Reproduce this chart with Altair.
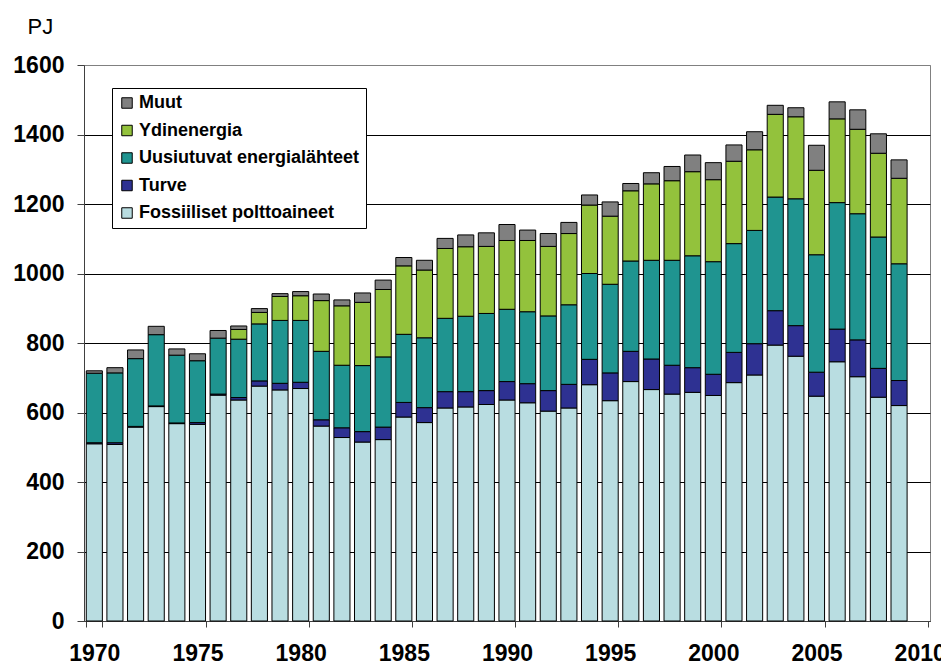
import altair as alt
import pandas as pd

years = list(range(1970, 2010))

fossiiliset = [510, 508, 558, 617, 568, 566, 650, 636, 676, 665,
               669, 561, 528, 515, 522, 587, 571, 613, 616, 623,
               636, 628, 604, 613, 680, 634, 689, 666, 653, 658,
               649, 686, 708, 794, 762, 647, 746, 703, 644, 620]
turve = [3, 5, 2, 2, 2, 5, 3, 7, 15, 19,
         18, 18, 28, 30, 36, 42, 43, 47, 44, 40,
         53, 55, 59, 68, 73, 80, 87, 88, 83, 71,
         61, 87, 90, 99, 88, 69, 94, 106, 83, 72]
uusiutuvat = [200, 201, 195, 205, 195, 178, 161, 168, 164, 181,
              178, 197, 180, 190, 202, 196, 201, 211, 217, 222,
              208, 207, 215, 229, 247, 255, 260, 284, 302, 322,
              324, 313, 326, 327, 365, 338, 364, 363, 378, 336]
ydinenergia = [0, 0, 0, 0, 0, 0, 0, 28, 33, 69,
               71, 146, 171, 182, 194, 197, 195, 201, 200, 193,
               198, 205, 200, 205, 197, 196, 202, 220, 229, 242,
               236, 237, 232, 238, 236, 243, 241, 243, 241, 246]
muut = [7, 15, 25, 24, 18, 20, 22, 10, 11, 8,
        12, 19, 17, 27, 27, 24, 28, 29, 34, 39,
        46, 30, 37, 32, 29, 41, 21, 32, 41, 48,
        49, 47, 52, 26, 26, 72, 49, 56, 56, 53]

series_names = ["Fossiiliset polttoaineet", "Turve", "Uusiutuvat energialähteet",
                "Ydinenergia", "Muut"]
series_values = [fossiiliset, turve, uusiutuvat, ydinenergia, muut]
series_colors = ["#B9DDE1", "#2E3192", "#1F9490", "#93C23C", "#808080"]

legend_order = ["Muut", "Ydinenergia", "Uusiutuvat energialähteet", "Turve",
                "Fossiiliset polttoaineet"]
legend_colors = [series_colors[series_names.index(n)] for n in legend_order]

x_domain = list(range(1970, 2011))
x_labels = list(range(1970, 2011, 5))
y_ticks = list(range(0, 1601, 200))

rows = []
for k, (name, vals) in enumerate(zip(series_names, series_values)):
    for yr, v in zip(years, vals):
        if v > 0:
            rows.append({"vuosi": yr, "lahde": name, "PJ": v, "jarj": k})
df = pd.DataFrame(rows)

FONT = "Liberation Sans"

chart = alt.Chart(df).mark_bar(stroke="black", strokeWidth=1).encode(
    x=alt.X("vuosi:O",
            scale=alt.Scale(domain=x_domain, paddingInner=0.22, paddingOuter=0.11),
            axis=alt.Axis(values=x_labels, title=None, labelAngle=0,
                          labelFont=FONT, labelFontSize=23, labelFontWeight="bold",
                          labelColor="black", labelPadding=15,
                          tickColor="#404040", tickSize=6, tickBand="extent",
                          domainColor="#404040", grid=False)),
    y=alt.Y("PJ:Q", stack="zero",
            scale=alt.Scale(domain=[0, 1600], nice=False),
            axis=alt.Axis(values=y_ticks, format="d", title="PJ", titleAngle=0,
                          titleAlign="left", titleBaseline="alphabetic",
                          titleX=-57, titleY=-32,
                          titleFont=FONT, titleFontSize=22, titleFontWeight="normal",
                          titleColor="black",
                          labelFont=FONT, labelFontSize=23, labelFontWeight="bold",
                          labelColor="black", labelPadding=13,
                          tickColor="#404040", tickSize=7,
                          domainColor="#404040",
                          gridColor={"condition": {"test": "datum.value >= 1600",
                                                   "value": "#808080"},
                                     "value": "black"},
                          gridWidth=1)),
    color=alt.Color("lahde:N",
                    scale=alt.Scale(domain=legend_order, range=legend_colors),
                    legend=alt.Legend(title=None, orient="none",
                                      legendX=28, legendY=23,
                                      symbolType="square", symbolSize=110,
                                      symbolStrokeColor="black", symbolStrokeWidth=1,
                                      symbolOpacity=1,
                                      labelFont=FONT, labelFontSize=18,
                                      labelFontWeight="bold", labelColor="black",
                                      labelLimit=0,
                                      labelOffset=3, rowPadding=9.5,
                                      padding=6, strokeColor="black",
                                      fillColor="white")),
    order=alt.Order("jarj:Q", sort="ascending"),
).properties(
    width=846, height=556,
    autosize=alt.AutoSizeParams(type="none"),
    padding={"left": 76, "top": 57, "right": 11, "bottom": 45},
).configure_view(
    stroke="#808080", strokeWidth=1
)

chart.save("out.html", embed_options={"renderer": "svg", "actions": False})
